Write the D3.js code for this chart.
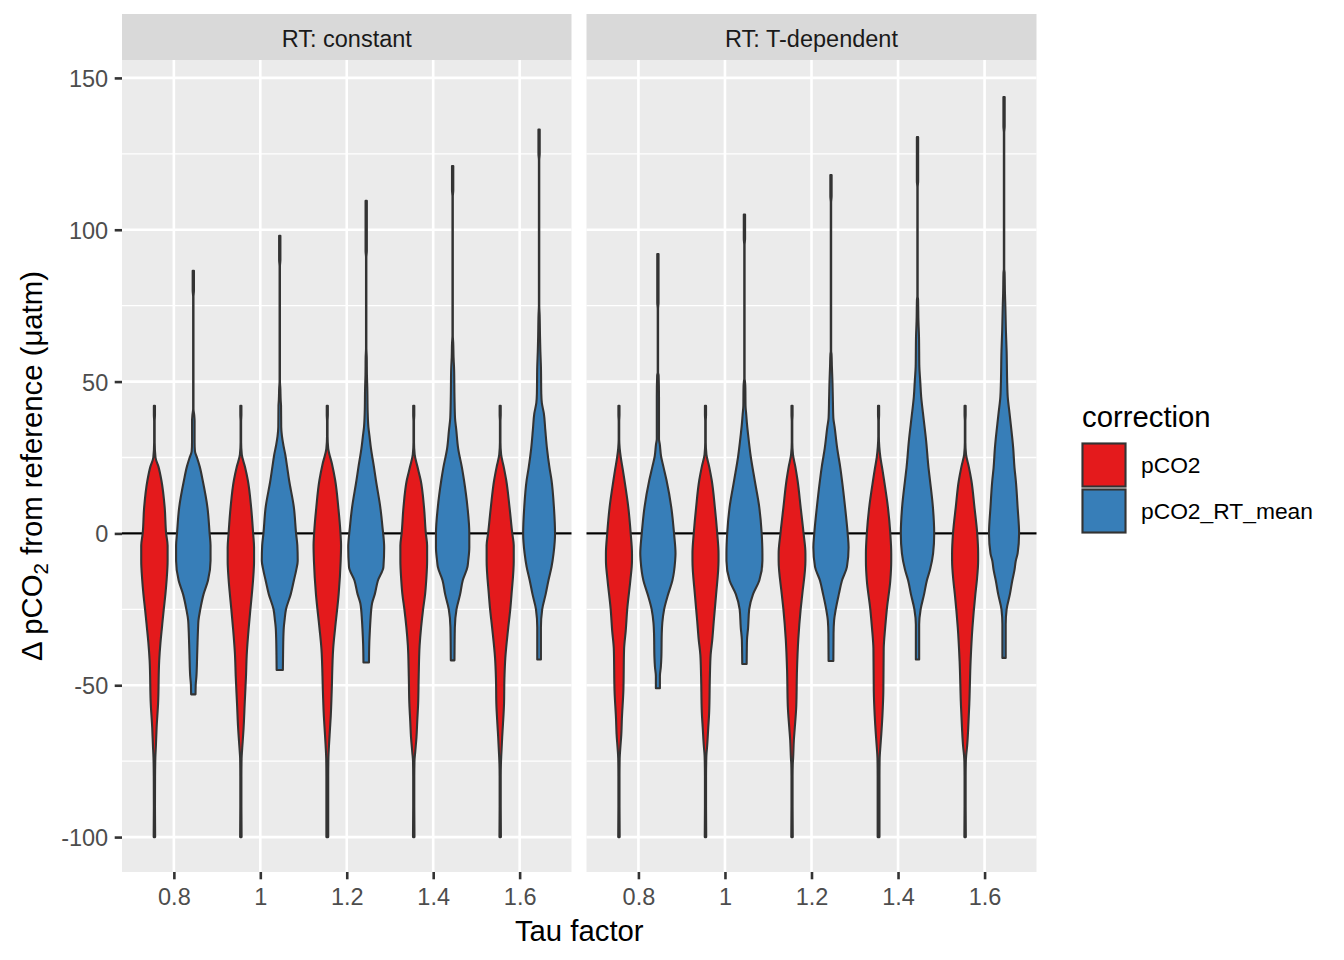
<!DOCTYPE html>
<html>
<head>
<meta charset="utf-8">
<script src="https://cdn.jsdelivr.net/npm/d3@7"></script>
<style>
  html, body { margin: 0; padding: 0; background: #ffffff; }
  svg { display: block; font-family: "Liberation Sans", Arial, sans-serif; }
</style>
</head>
<body>
<svg id="chart" width="1344" height="960"></svg>
<script>
// ---------------- data ----------------
const facets = ["RT: constant", "RT: T-dependent"];
const tauLabels = ["0.8", "1", "1.2", "1.4", "1.6"];
const corrections = ["pCO2", "pCO2_RT_mean"];
const fillColors = ["#E41A1C", "#377EB8"];
const yTicks = [-100, -50, 0, 50, 100, 150];
const yMinorTicks = [-75, -25, 25, 75, 125];

// violin profiles: [value (µatm), relative density]
const constantPCO2 = [
  [[-100,0.04],[-90,0.03],[-80,0.035],[-74,0.05],[-70,0.08],[-64,0.12],[-56,0.2],[-42,0.26],[-36,0.33],[-31,0.41],[-25,0.51],[-20,0.6],[-15,0.67],[-9,0.72],[-4,0.72],[0,0.64],[8.6,0.56],[17.5,0.38],[22,0.22],[25,0.06],[30,0.015],[37,0.015],[39,0.03],[42,0.03]],
  [[-100,0.04],[-90,0.03],[-80,0.03],[-74,0.04],[-72,0.06],[-64,0.15],[-56,0.21],[-47,0.28],[-40,0.32],[-31,0.43],[-25,0.52],[-20,0.6],[-15,0.67],[-9,0.72],[-4.6,0.72],[0,0.67],[8.6,0.56],[17.5,0.38],[22,0.22],[26,0.05],[30,0.015],[37,0.015],[39,0.03],[42,0.03]],
  [[-100,0.05],[-90,0.05],[-80,0.05],[-74,0.06],[-70,0.09],[-64,0.15],[-60,0.19],[-52,0.24],[-38,0.32],[-31,0.43],[-20,0.62],[-9,0.73],[-4,0.75],[0,0.72],[8.6,0.6],[17.5,0.43],[23,0.25],[28,0.05],[32,0.015],[37,0.015],[39,0.03],[42,0.03]],
  [[-100,0.04],[-90,0.03],[-80,0.03],[-75,0.04],[-72,0.08],[-67,0.15],[-62,0.19],[-56,0.24],[-47,0.27],[-37,0.32],[-31,0.4],[-25,0.51],[-20,0.62],[-15.5,0.68],[-9,0.73],[-4,0.73],[0,0.66],[8.6,0.56],[17.5,0.38],[22,0.2],[26,0.05],[30,0.015],[37,0.015],[39,0.03],[42,0.03]],
  [[-100,0.04],[-90,0.03],[-80,0.03],[-76,0.04],[-73,0.06],[-67,0.11],[-63,0.15],[-56,0.21],[-48,0.23],[-41,0.28],[-31,0.44],[-25,0.55],[-20,0.62],[-9,0.74],[-4,0.74],[0,0.66],[8.6,0.51],[17.5,0.33],[22,0.19],[26,0.05],[30,0.015],[37,0.015],[39,0.03],[42,0.03]]
];
const constantRTmean = [
  [[-53,0.12],[-50,0.13],[-47,0.17],[-40,0.21],[-36,0.23],[-31,0.26],[-28.7,0.28],[-25,0.38],[-20,0.56],[-15.5,0.8],[-9,0.94],[-4,0.94],[0,0.89],[8.6,0.77],[17.5,0.51],[22,0.35],[25,0.2],[27,0.09],[30,0.07],[37,0.07],[39,0.05],[41,0.01],[78,0.01],[80,0.035],[86.5,0.035]],
  [[-45,0.17],[-40,0.18],[-36,0.19],[-31,0.22],[-28.7,0.26],[-25,0.34],[-20,0.6],[-15.5,0.77],[-12,0.9],[-9,0.98],[-4,0.96],[0,0.89],[8.6,0.77],[17.5,0.51],[22,0.4],[26,0.3],[29,0.2],[32,0.12],[35,0.08],[42,0.07],[44,0.05],[48,0.03],[50,0.01],[88,0.01],[90,0.035],[98,0.035]],
  [[-42.5,0.15],[-36,0.17],[-32,0.2],[-28.7,0.23],[-23,0.32],[-20,0.47],[-15.5,0.64],[-11,0.94],[-4.6,0.98],[2,0.89],[8.6,0.77],[17.5,0.53],[21.6,0.43],[28,0.26],[32,0.18],[35,0.12],[40,0.08],[48,0.06],[52,0.04],[58,0.03],[61,0.01],[91,0.01],[93,0.035],[109.5,0.035]],
  [[-41.8,0.1],[-31,0.12],[-25,0.21],[-20,0.41],[-15.5,0.55],[-11,0.81],[-9,0.85],[-4.6,0.91],[0,0.91],[8.6,0.81],[17.5,0.62],[21.6,0.51],[28,0.3],[34,0.2],[38,0.13],[45,0.1],[54,0.08],[58,0.05],[63,0.03],[65,0.01],[111,0.01],[113,0.035],[121,0.035]],
  [[-41.5,0.1],[-31,0.1],[-25,0.17],[-20,0.36],[-15.5,0.51],[-11,0.68],[-6.6,0.79],[0,0.87],[8.6,0.81],[17.5,0.68],[21.6,0.57],[28,0.43],[34,0.34],[39.5,0.26],[43,0.15],[46,0.12],[55,0.1],[60,0.07],[65,0.05],[72,0.03],[75,0.01],[123,0.01],[125,0.035],[133,0.035]]
];
const tdepPCO2 = [
  [[-100,0.04],[-90,0.03],[-80,0.03],[-74,0.04],[-71,0.07],[-66,0.13],[-61,0.16],[-52,0.24],[-38,0.28],[-32,0.37],[-25,0.45],[-15.5,0.62],[-9,0.71],[-6.6,0.71],[0,0.64],[8.6,0.51],[17.5,0.3],[21,0.21],[25,0.1],[28,0.04],[31,0.015],[37,0.015],[39,0.03],[42,0.03]],
  [[-100,0.04],[-90,0.03],[-80,0.03],[-75,0.04],[-73,0.05],[-70,0.09],[-64,0.15],[-59,0.2],[-47,0.24],[-40,0.28],[-35,0.37],[-29,0.45],[-20,0.58],[-9,0.71],[-6.6,0.71],[0,0.64],[8.6,0.51],[17.5,0.34],[22,0.2],[26,0.05],[30,0.015],[37,0.015],[39,0.03],[42,0.03]],
  [[-100,0.04],[-90,0.03],[-80,0.03],[-76,0.04],[-74,0.06],[-68,0.1],[-64,0.15],[-57,0.23],[-45,0.27],[-35,0.34],[-25,0.47],[-20,0.56],[-9,0.73],[-6.6,0.73],[0,0.63],[8.6,0.47],[17.5,0.3],[22,0.18],[26,0.05],[30,0.015],[37,0.015],[39,0.03],[42,0.03]],
  [[-100,0.05],[-90,0.05],[-80,0.05],[-74,0.06],[-71,0.09],[-66,0.15],[-60,0.21],[-52,0.26],[-38,0.28],[-31,0.36],[-25,0.45],[-15.5,0.64],[-9,0.69],[-6.6,0.69],[0,0.64],[8.6,0.51],[17.5,0.3],[21,0.21],[25,0.1],[28.5,0.04],[32,0.015],[37,0.015],[39,0.03],[42,0.03]],
  [[-100,0.04],[-90,0.03],[-80,0.03],[-75,0.04],[-73,0.06],[-70,0.11],[-64,0.17],[-56,0.23],[-42,0.3],[-31,0.4],[-20,0.56],[-15.5,0.64],[-9,0.71],[-6.6,0.71],[0,0.66],[8.6,0.51],[17.5,0.34],[22,0.2],[26,0.05],[30,0.015],[37,0.015],[39,0.03],[42,0.03]]
];
const tdepRTmean = [
  [[-51,0.11],[-47,0.11],[-44,0.16],[-40.5,0.19],[-33,0.21],[-29.5,0.24],[-25,0.34],[-20,0.56],[-15.5,0.79],[-9,0.94],[-6.6,0.96],[0,0.88],[8.6,0.73],[17.5,0.47],[22,0.3],[25.5,0.17],[29.5,0.1],[31,0.06],[45,0.06],[52,0.04],[53,0.01],[74,0.01],[76,0.035],[92,0.035]],
  [[-43,0.12],[-38,0.13],[-35,0.14],[-31,0.2],[-25,0.26],[-20,0.47],[-15.5,0.81],[-9,0.98],[-6.6,0.98],[0,0.94],[8.6,0.81],[17.5,0.56],[25.5,0.34],[32,0.21],[36,0.14],[39,0.1],[42,0.06],[48,0.05],[50,0.03],[51,0.01],[95,0.01],[97,0.035],[105,0.035]],
  [[-42,0.13],[-33,0.14],[-28.7,0.17],[-25,0.26],[-20,0.43],[-15.5,0.6],[-11,0.87],[-4.6,0.96],[0,0.91],[8.6,0.77],[17.5,0.6],[21.6,0.51],[28,0.34],[35,0.2],[38,0.13],[45,0.1],[50,0.08],[55,0.05],[59,0.03],[60,0.01],[109,0.01],[111,0.035],[118,0.035]],
  [[-41.5,0.09],[-30,0.09],[-25,0.17],[-20,0.36],[-15.5,0.51],[-12,0.68],[-6.6,0.85],[0,0.91],[8.6,0.84],[17.5,0.68],[21.6,0.6],[30.5,0.47],[39.5,0.3],[45,0.2],[50,0.15],[55,0.1],[65,0.08],[70,0.05],[77,0.03],[78,0.01],[114,0.01],[116,0.035],[130.5,0.035]],
  [[-41,0.09],[-30,0.09],[-25,0.14],[-20,0.32],[-15.5,0.45],[-12,0.57],[-9,0.64],[-6.6,0.74],[0,0.82],[8.6,0.74],[17.5,0.64],[21.6,0.57],[28,0.5],[39.5,0.3],[45,0.2],[50,0.17],[60,0.14],[67,0.1],[75,0.07],[79,0.05],[86,0.03],[87,0.01],[132,0.01],[134,0.035],[143.7,0.035]]
];
const profilesByFacet = [[constantPCO2, constantRTmean], [tdepPCO2, tdepRTmean]];

// ---------------- layout ----------------
const svg = d3.select("#chart");
const panelTop = 60, panelBottom = 872;
const panels = [{left: 122, right: 571.5}, {left: 586.5, right: 1036.5}];
const stripTop = 14;
const majorW = 2.6, minorW = 1.3;
const fontFam = '"Liberation Sans", Arial, sans-serif';

const y = d3.scaleLinear().domain([-111.5, 155.9]).range([panelBottom, panelTop]);

svg.append("rect").attr("width", 1344).attr("height", 960).attr("fill", "#ffffff");

panels.forEach((p, fi) => {
  const x = d3.scalePoint().domain(tauLabels).range([p.left, p.right]).padding(0.6);
  const step = x.step();
  const dodge = d3.scaleOrdinal().domain(corrections).range([-0.225 * step, 0.225 * step]);
  const w = d3.scaleLinear().domain([0, 1]).range([0, 0.212 * step]);

  const g = svg.append("g");
  g.append("rect").attr("x", p.left).attr("y", panelTop)
    .attr("width", p.right - p.left).attr("height", panelBottom - panelTop)
    .attr("fill", "#EBEBEB");
  g.selectAll(".ymin").data(yMinorTicks).enter().append("line")
    .attr("x1", p.left).attr("x2", p.right)
    .attr("y1", d => y(d)).attr("y2", d => y(d))
    .attr("stroke", "#ffffff").attr("stroke-width", minorW);
  g.selectAll(".ymaj").data(yTicks).enter().append("line")
    .attr("x1", p.left).attr("x2", p.right)
    .attr("y1", d => y(d)).attr("y2", d => y(d))
    .attr("stroke", "#ffffff").attr("stroke-width", majorW);
  g.selectAll(".xmaj").data(tauLabels).enter().append("line")
    .attr("x1", d => x(d)).attr("x2", d => x(d))
    .attr("y1", panelTop).attr("y2", panelBottom)
    .attr("stroke", "#ffffff").attr("stroke-width", majorW);

  g.append("line").attr("x1", p.left).attr("x2", p.right)
    .attr("y1", y(0)).attr("y2", y(0))
    .attr("stroke", "#000000").attr("stroke-width", 2.4);

  corrections.forEach((c, ci) => {
    profilesByFacet[fi][ci].forEach((prof, ti) => {
      const cx = x(tauLabels[ti]) + dodge(c);
      const area = d3.area()
        .curve(d3.curveMonotoneY)
        .y(d => y(d[0]))
        .x0(d => cx - w(d[1]))
        .x1(d => cx + w(d[1]));
      g.append("path").attr("d", area(prof))
        .attr("fill", fillColors[ci])
        .attr("stroke", "#333333").attr("stroke-width", 2.1)
        .attr("stroke-linejoin", "round");
    });
  });

  g.append("rect").attr("x", p.left).attr("y", stripTop)
    .attr("width", p.right - p.left).attr("height", panelTop - stripTop)
    .attr("fill", "#D9D9D9");
  g.append("text").attr("x", (p.left + p.right) / 2).attr("y", 47.2)
    .attr("text-anchor", "middle").attr("font-size", 23.5)
    .attr("fill", "#1A1A1A").attr("font-family", fontFam)
    .text(facets[fi]);

  const xAxis = d3.axisBottom(x).tickSize(7.3).tickPadding(9.3);
  const ax = svg.append("g").attr("transform", `translate(0,${panelBottom})`).call(xAxis);
  ax.select(".domain").remove();
  ax.selectAll(".tick line").attr("stroke", "#333333").attr("stroke-width", majorW);
  ax.selectAll(".tick text").attr("fill", "#4D4D4D").attr("font-size", 23.5).attr("font-family", fontFam);
});

const yAxis = d3.axisLeft(y).tickValues(yTicks).tickSize(7.3).tickPadding(6.5).tickFormat(d => String(d));
const ay = svg.append("g").attr("transform", `translate(${panels[0].left},0)`).call(yAxis);
ay.select(".domain").remove();
ay.selectAll(".tick line").attr("stroke", "#333333").attr("stroke-width", majorW);
ay.selectAll(".tick text").attr("fill", "#4D4D4D").attr("font-size", 23.5)
  .attr("font-family", fontFam).attr("dy", "0.36em");

svg.append("text").attr("x", (panels[0].left + panels[1].right) / 2).attr("y", 941)
  .attr("text-anchor", "middle").attr("font-size", 29.3).attr("fill", "#000000")
  .attr("font-family", fontFam).text("Tau factor");

const yt = svg.append("text")
  .attr("transform", `translate(42,${(panelTop + panelBottom) / 2}) rotate(-90)`)
  .attr("text-anchor", "middle").attr("font-size", 29.3).attr("fill", "#000000")
  .attr("font-family", fontFam);
yt.append("tspan").text("\u0394 pCO");
yt.append("tspan").attr("font-size", 20.5).attr("dy", 6).text("2");
yt.append("tspan").attr("dy", -6).text(" from reference (\u03BCatm)");

const legX = 1082;
svg.append("text").attr("x", legX).attr("y", 427).attr("font-size", 29.3)
  .attr("fill", "#000000").attr("font-family", fontFam).text("correction");
const keyTop = [442, 488];
corrections.forEach((c, i) => {
  svg.append("rect").attr("x", legX - 1).attr("y", keyTop[i])
    .attr("width", 46).attr("height", 46).attr("fill", "#F2F2F2");
  svg.append("rect").attr("x", legX + 0.5).attr("y", keyTop[i] + 1.5)
    .attr("width", 43).attr("height", 43)
    .attr("fill", fillColors[i]).attr("stroke", "#333333").attr("stroke-width", 2.1);
  svg.append("text").attr("x", 1141).attr("y", keyTop[i] + 23 + 8.2)
    .attr("font-size", 22.8).attr("fill", "#000000").attr("font-family", fontFam)
    .text(c);
});
</script>
</body>
</html>
